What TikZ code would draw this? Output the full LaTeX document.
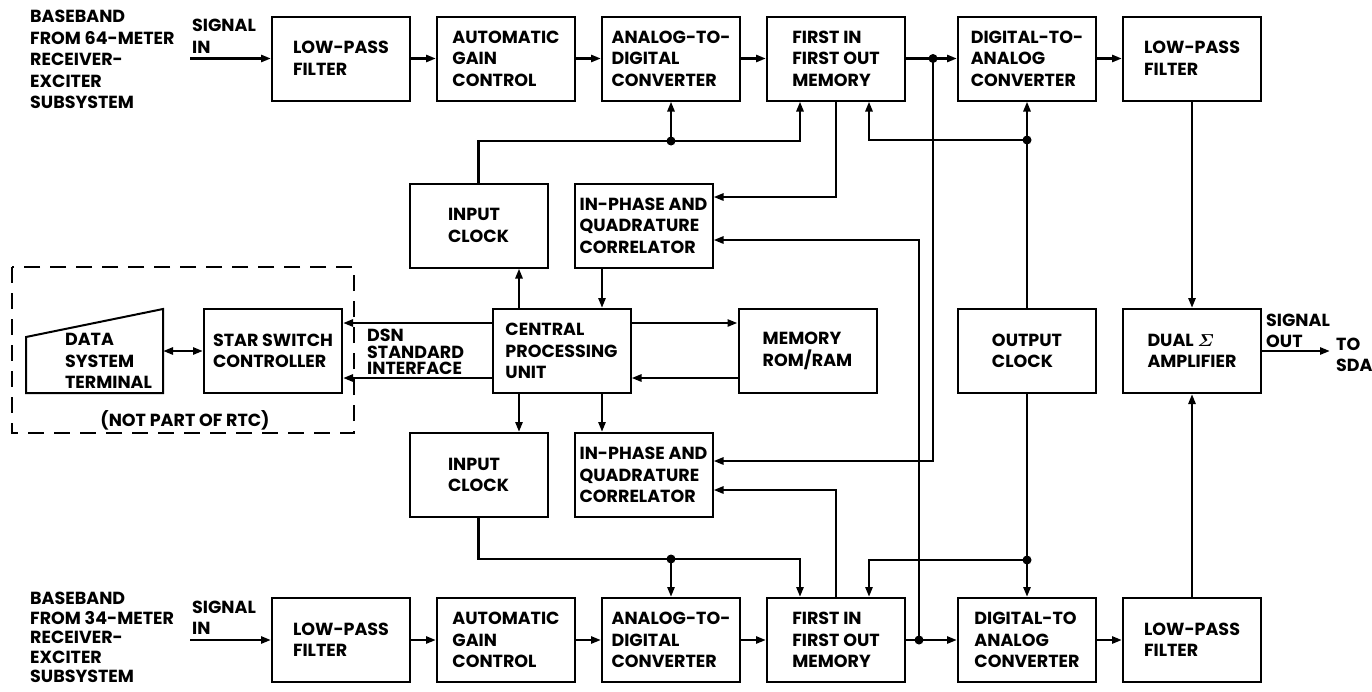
\documentclass[tikz,border=0pt]{standalone}
\usepackage{fontspec}
\setmainfont{Poppins}
\usepackage{amsmath,amssymb}
\usetikzlibrary{arrows.meta, positioning, calc}

\begin{document}
\begin{tikzpicture}[
    x=1pt, y=-1pt,
    node distance=25pt,
    font=\fontsize{17.5}{21.5}\selectfont\bfseries,
    >={Triangle[length=10pt, width=7pt]},
    block/.style={draw, rectangle, line width=2pt, align=left, minimum width=138pt, minimum height=84pt, inner sep=2pt},
    lbl/.style={align=left, inner sep=0pt},
    wire/.style={line width=2.6pt},
    arrow/.style={wire, ->},
    biarrow/.style={wire, <->},
    fence/.style={line width=2pt, dash pattern=on 16pt off 10pt}
  ]
  \useasboundingbox (0,0) rectangle (1372,691);

  % 64-meter channel
  \node[block] (lpf1) at (341,58.5) {LOW-PASS\\FILTER};
  \node[block, right=of lpf1] (agc1) {AUTOMATIC\\GAIN\\CONTROL};
  \node[block, right=of agc1] (adc1) {ANALOG-TO-\\DIGITAL\\CONVERTER};
  \node[block, right=of adc1] (fifo1) {FIRST IN\\FIRST OUT\\MEMORY};
  \node[block, right=51pt of fifo1] (dac1) {DIGITAL-TO-\\ANALOG\\CONVERTER};
  \node[block, right=of dac1] (lpf1o) {LOW-PASS\\FILTER};

  % 34-meter channel
  \node[block] (lpf2) at (341,640) {LOW-PASS\\FILTER};
  \node[block, right=of lpf2] (agc2) {AUTOMATIC\\GAIN\\CONTROL};
  \node[block, right=of agc2] (adc2) {ANALOG-TO-\\DIGITAL\\CONVERTER};
  \node[block, right=of adc2] (fifo2) {FIRST IN\\FIRST OUT\\MEMORY};
  \node[block, right=51pt of fifo2] (dac2) {DIGITAL-TO\\ANALOG\\CONVERTER};
  \node[block, right=of dac2] (lpf2o) {LOW-PASS\\FILTER};

  % control part
  \node[block] (clkin1) at (478.5,225.5) {INPUT\\CLOCK};
  \node[block] (iq1) at (643.5,225.5) {IN-PHASE AND\\QUADRATURE\\CORRELATOR};
  \node[block] (cpu) at (561.5,351) {CENTRAL\\PROCESSING\\UNIT};
  \node[block, right=106pt of cpu] (mem) {MEMORY\\ROM/RAM};
  \node[block] (clkin2) at (478.5,475) {INPUT\\CLOCK};
  \node[block] (iq2) at (643.5,475) {IN-PHASE AND\\QUADRATURE\\CORRELATOR};
  \node[block] (clkout) at (dac1 |- cpu) {OUTPUT\\CLOCK};
  \node[block] (dual) at (lpf1o |- cpu) {DUAL {\boldmath$\varSigma$}\\AMPLIFIER};
  \node[block] (ssc) at (273,351) {STAR SWITCH\\CONTROLLER};

  % terminal outside the RTC
  \node[minimum width=137pt, minimum height=84pt, outer sep=0pt] (dst) at (94.5,351) {};
  \draw[line width=2pt] (dst.south west) -- ++(0,-56) -- (dst.north east) -- (dst.south east) -- cycle;
  \node[lbl] (dsttxt) at ($(dst.center)+(14,10)$) {DATA\\SYSTEM\\TERMINAL};
  \draw[fence] (12,267) rectangle (354,433);
  \node (nprtc) at (185,420) {(NOT PART OF RTC)};

  % labels
  \node[lbl, anchor=north west] (src1) at (30,10) {BASEBAND\\FROM 64-METER\\RECEIVER-\\EXCITER\\SUBSYSTEM};
  \node[lbl, anchor=north west, font=\fontsize{17.5}{19.5}\selectfont\bfseries] (src2) at (30,592) {BASEBAND\\FROM 34-METER\\RECEIVER-\\EXCITER\\SUBSYSTEM};
  \coordinate (in1) at (190,58.5);
  \coordinate (in2) at (190,640);
  \node[lbl, anchor=south west] (sigin1) at ($(in1)+(2,-5)$) {SIGNAL\\IN};
  \node[lbl, anchor=south west] (sigin2) at ($(in2)+(2,-5)$) {SIGNAL\\IN};
  \node[lbl, anchor=west, font=\fontsize{17.5}{16.5}\selectfont\bfseries] (dsn) at (367,352) {DSN\\STANDARD\\INTERFACE};
  \coordinate (sda) at (1330,351);
  \node[lbl, anchor=south west] (sigout) at ($(dual.east)+(4,-3)$) {SIGNAL\\OUT};
  \node[lbl, anchor=west] (tosda) at ($(sda)+(6,4)$) {TO\\SDA};

  % signal paths
  \draw[arrow] (in1) -- (lpf1);
  \draw[arrow] (lpf1) -- (agc1);
  \draw[arrow] (agc1) -- (adc1);
  \draw[arrow] (adc1) -- (fifo1);
  \coordinate (tap1) at ($(fifo1.east)+(27,0)$);
  \draw[arrow] (fifo1) -- (dac1);
  \draw[arrow] (dac1) -- (lpf1o);
  \draw[arrow] (in2) -- (lpf2);
  \draw[arrow] (lpf2) -- (agc2);
  \draw[arrow] (agc2) -- (adc2);
  \draw[arrow] (adc2) -- (fifo2);
  \coordinate (tap2) at ($(fifo2.east)+(13,0)$);
  \draw[arrow] (fifo2) -- (dac2);
  \draw[arrow] (dac2) -- (lpf2o);
  \draw[arrow] (lpf1o) -- (dual);
  \draw[arrow] (lpf2o) -- (dual);
  \draw[arrow] (dual) -- (sda);

  % memories to correlators
  \draw[arrow] (fifo1.south) |- ([yshift=28.5pt]iq1.east);
  \draw[arrow] (tap2) |- ([yshift=-14.5pt]iq1.east);
  \draw[arrow] (tap1) |- ([yshift=14pt]iq2.east);
  \draw[arrow] (fifo2.north) |- ([yshift=-15pt]iq2.east);

  % clocks
  \coordinate (bus1) at (adc1.south |- 0,141);
  \draw[wire] (clkin1.north) |- (bus1);
  \draw[arrow] (bus1) -- (adc1.south);
  \draw[arrow] (bus1) -| ([xshift=-36pt]fifo1.south);
  \coordinate (bus2) at (dac1.south |- 0,140);
  \draw[arrow] (clkout.north) -- (dac1.south);
  \draw[arrow] (bus2) -| ([xshift=33pt]fifo1.south);
  \coordinate (bus3) at (adc2.north |- 0,559);
  \draw[wire] (clkin2.south) |- (bus3);
  \draw[arrow] (bus3) -- (adc2.north);
  \draw[arrow] (bus3) -| ([xshift=-36pt]fifo2.north);
  \coordinate (bus4) at (dac2.north |- 0,560);
  \draw[arrow] (clkout.south) -- (dac2.north);
  \draw[arrow] (bus4) -| ([xshift=33pt]fifo2.north);

  % processor
  \draw[arrow] ([xshift=-42.5pt]cpu.north) -- ([xshift=-42.5pt]cpu.north |- clkin1.south);
  \draw[arrow] ([xshift=40.5pt]cpu.north |- iq1.south) -- ([xshift=40.5pt]cpu.north);
  \draw[arrow] ([xshift=-42.5pt]cpu.south) -- ([xshift=-42.5pt]cpu.south |- clkin2.north);
  \draw[arrow] ([xshift=40.5pt]cpu.south) -- ([xshift=40.5pt]cpu.south |- iq2.north);
  \draw[arrow] ([yshift=28pt]cpu.east) -- ([yshift=28pt]cpu.east -| mem.west);
  \draw[arrow] ([yshift=-27pt]mem.west) -- ([yshift=-27pt]mem.west -| cpu.east);
  \draw[arrow] ([yshift=28pt]cpu.west) -- ([yshift=28pt]cpu.west -| ssc.east);
  \draw[arrow] ([yshift=-27pt]cpu.west) -- ([yshift=-27pt]cpu.west -| ssc.east);
  \draw[biarrow] (ssc.west) -- (ssc.west -| dst.east);

  % junctions
  \foreach \j in {tap1, tap2, bus1, bus2, bus3, bus4}
    \fill (\j) circle (4.5pt);
\end{tikzpicture}
\end{document}
